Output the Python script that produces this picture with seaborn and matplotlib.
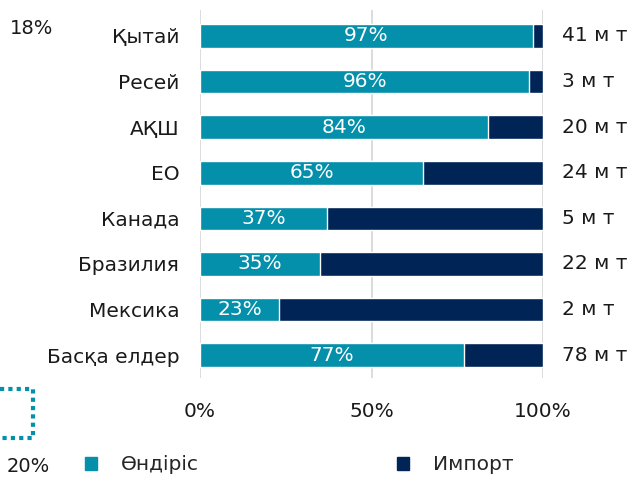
import matplotlib
matplotlib.use("Agg")
import matplotlib.pyplot as plt
import pandas as pd
import seaborn as sns
from matplotlib.lines import Line2D
from matplotlib.patches import Patch

# data
countries = ["Қытай", "Ресей", "АҚШ", "ЕО", "Канада", "Бразилия", "Мексика", "Басқа елдер"]
production = [97, 96, 84, 65, 37, 35, 23, 77]
totals = ["41 м т", "3 м т", "20 м т", "24 м т", "5 м т", "22 м т", "2 м т", "78 м т"]
x_ticks = [0, 50, 100]

TEAL = "#048fab"
NAVY = "#002456"
FS = 14.5

df = pd.DataFrame({"country": countries, "prod": production})
df["total"] = 100

sns.set_theme(style="white")
plt.rcParams["font.family"] = ["DejaVu Sans"]

fig = plt.figure(figsize=(6.36, 4.78), dpi=100)
ax = fig.add_axes([200 / 636, 1 - 378 / 478, 343 / 636, 368 / 478])

# import = full bar underneath, production on top
sns.barplot(data=df, y="country", x="total", color=NAVY, width=0.52,
            saturation=1, orient="h", ax=ax, zorder=2)
sns.barplot(data=df, y="country", x="prod", color=TEAL, width=0.52,
            saturation=1, orient="h", ax=ax, zorder=3)

for i, (p, t) in enumerate(zip(production, totals)):
    ax.text(p / 2, i, f"{p}%", ha="center", va="center", color="white",
            fontsize=FS, zorder=4)
    ax.text(105.5, i, t, ha="left", va="center", color="#1a1a1a",
            fontsize=FS, clip_on=False)

ax.set_xlim(0, 100)
ax.set_ylim(7.5, -0.57)
ax.set_xticks(x_ticks)
ax.set_xticklabels([f"{v}%" for v in x_ticks], fontsize=FS, color="#1a1a1a")
ax.tick_params(axis="x", length=0, pad=17)
ax.tick_params(axis="y", length=0, pad=15, labelsize=FS, labelcolor="#1a1a1a")
ax.set_xlabel("")
ax.set_ylabel("")
for v in x_ticks:
    ax.axvline(v, color="#d9d9d9", lw=1.3, zorder=1)
for s in ax.spines.values():
    s.set_visible(False)

# legend
handles = [Patch(color=TEAL, label="Өндіріс"), Patch(color=NAVY, label="Импорт")]
fig.legend(handles=handles, loc="center left", bbox_to_anchor=(67 / 636, 1 - 465 / 478),
           ncol=2, frameon=False, fontsize=FS, handlelength=0.6, handleheight=0.6,
           handletextpad=1.2, columnspacing=9.8)

# stray labels at the edges of the reference crop
fig.text(10 / 636, 1 - 28 / 478, "18%", fontsize=14, va="center", color="#1a1a1a")
fig.text(7 / 636, 1 - 466 / 478, "20%", fontsize=14, va="center", color="#1a1a1a")
fig.add_artist(Line2D([0, 33 / 636, 33 / 636, 0],
                      [1 - 389 / 478, 1 - 389 / 478, 1 - 438 / 478, 1 - 438 / 478],
                      transform=fig.transFigure, color=TEAL, lw=3, ls=(0, (1, 1))))

fig.savefig("out.png", dpi=100)
